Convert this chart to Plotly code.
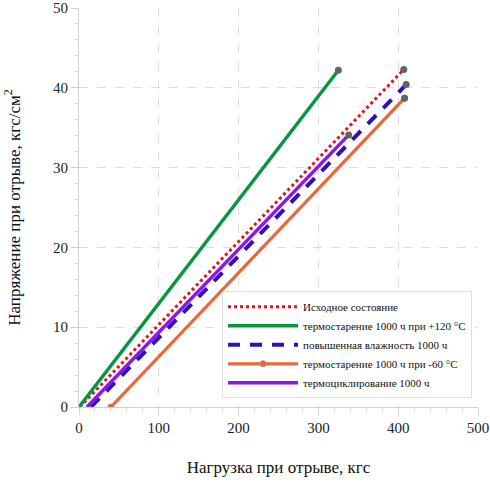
import plotly.graph_objects as go

series_names = [
    "Исходное состояние",
    "термостарение 1000 ч при +120 °С",
    "повышенная влажность 1000 ч",
    "термостарение 1000 ч при -60 °С",
    "термоциклирование 1000 ч",
]
load_start = [1, 0, 15, 40, 10]
load_end = [407, 325, 410, 408, 338]
stress_start = [0, 0, 0, 0, 0]
stress_end = [42.3, 42.2, 40.4, 38.7, 34.1]

colors = ["#E0161A", "#0A9440", "#3010B8", "#E8683C", "#8C16F0"]
dashes = ["dot", "solid", "12px,10px", "solid", "solid"]
widths = [3, 3.5, 4, 3.2, 3.5]

fig = go.Figure()
for i, name in enumerate(series_names):
    mode = "lines+markers" if i == 3 else "lines"
    fig.add_trace(go.Scatter(
        x=[load_start[i], load_end[i]],
        y=[stress_start[i], stress_end[i]],
        mode=mode,
        name=name,
        line=dict(color=colors[i], dash=dashes[i], width=widths[i]),
        marker=dict(size=6, color=colors[i], line=dict(color="#C88060", width=1)) if i == 3 else None,
    ))

fig.add_trace(go.Scatter(
    x=load_end, y=stress_end, mode="markers", showlegend=False,
    marker=dict(size=7, color="#646464"), hoverinfo="skip",
))

axis_common = dict(
    showgrid=True, gridcolor="#DCDCDC", griddash="dash", gridwidth=1,
    showline=True, linecolor="#D0D0D0", linewidth=1,
    ticks="outside", ticklen=7, tickcolor="#D0D0D0",
    zeroline=False, automargin=False, ticklabeloverflow="allow",
    tickfont=dict(family="Liberation Serif", size=15, color="#222"),
)

fig.update_xaxes(
    range=[0, 500], dtick=100,
    minor=dict(dtick=20, ticks="outside", ticklen=4, tickcolor="#D8D8D8"),
    title=dict(text="Нагрузка при отрыве, кгс", font=dict(family="Liberation Serif", size=17, color="#111"), standoff=26),
    **axis_common,
)
fig.update_yaxes(
    range=[0, 50], dtick=10,
    minor=dict(dtick=2, ticks="outside", ticklen=4, tickcolor="#D8D8D8"),
    title=dict(text="Напряжение при отрыве, кгс/см<sup>2</sup>", font=dict(family="Liberation Serif", size=17, color="#111"), standoff=28),
    **axis_common,
)

fig.update_layout(
    width=490, height=491,
    margin=dict(l=79, r=12, t=8, b=84),
    plot_bgcolor="white", paper_bgcolor="white",
    legend=dict(
        x=0.985, y=0.29, xanchor="right", yanchor="top",
        bgcolor="white", bordercolor="#E0E0E0", borderwidth=1,
        font=dict(family="Liberation Serif", size=11, color="#111"),
        tracegroupgap=0, itemwidth=70,
    ),
)

fig.write_html("out.html", config={"displayModeBar": False},
               post_script="document.body.style.margin='0px';")
